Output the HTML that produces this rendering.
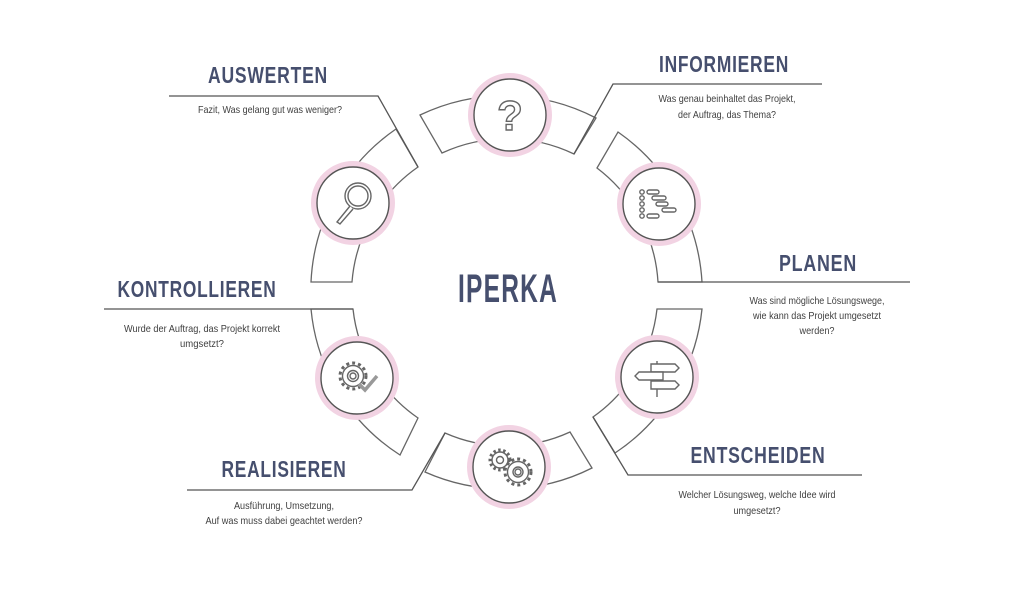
<!DOCTYPE html>
<html><head><meta charset="utf-8"><style>
html,body{margin:0;padding:0;background:#fff;}
svg{display:block;}
.t{font-family:"Liberation Sans",sans-serif;font-weight:bold;fill:#464f6e;text-anchor:middle;letter-spacing:1px;}
.s{font-family:"Liberation Sans",sans-serif;font-size:10.5px;fill:#3f3f3f;text-anchor:middle;}
.seg{fill:#fff;stroke:#666;stroke-width:1.3;}
.ld{fill:none;stroke:#555;stroke-width:1.3;}
.pk{fill:#fff;stroke:#f2d3e3;stroke-width:6;}
.ci{fill:#fff;stroke:#555;stroke-width:1.4;}
.ic{fill:#fff;stroke:#666;stroke-width:1.4;}
</style></head><body>
<svg width="1024" height="592" viewBox="0 0 1024 592" xmlns="http://www.w3.org/2000/svg">
<path class="seg" d="M420,115 A197,197 0 0 1 596,118 L574,154 A155,155 0 0 0 442,153 Z"/>
<path class="seg" d="M618,132 A197,197 0 0 1 702,282 L658,282 A155,155 0 0 0 597,168 Z"/>
<path class="seg" d="M702,309 A197,197 0 0 1 615,453 L593,417 A153,153 0 0 0 657,309 Z"/>
<path class="seg" d="M592,468 A195,195 0 0 1 425,472 L445,433 A152,152 0 0 0 570,432 Z"/>
<path class="seg" d="M400,455 A195,195 0 0 1 311,309 L353,309 A152,152 0 0 0 418,418 Z"/>
<path class="seg" d="M311,282 A197,197 0 0 1 396,129 L418,167 A155,155 0 0 0 352,282 Z"/>
<polyline class="ld" points="574,154 613,84 822,84"/>
<polyline class="ld" points="169,96 378,96 418,167"/>
<polyline class="ld" points="104,309 353,309"/>
<polyline class="ld" points="658,282 910,282"/>
<polyline class="ld" points="593,417 628,475 862,475"/>
<polyline class="ld" points="187,490 412,490 445,433"/>
<g transform="translate(510,115)"><circle class="pk" r="39"/><circle class="ci" r="36"/>
<text x="0" y="15" style="font-family:'Liberation Sans',sans-serif;font-size:42px;font-weight:bold;fill:#fff;stroke:#666;stroke-width:1.4;text-anchor:middle">?</text></g>
<g transform="translate(659,204)"><circle class="pk" r="39"/><circle class="ci" r="36"/>
<g class="ic"><circle cx="-17" cy="-12" r="2.2"/><circle cx="-17" cy="-6" r="2.2"/><circle cx="-17" cy="0" r="2.2"/><circle cx="-17" cy="6" r="2.2"/><circle cx="-17" cy="12" r="2.2"/>
<rect x="-12" y="-14" width="12" height="4" rx="2"/><rect x="-7" y="-8" width="14" height="4" rx="2"/><rect x="-3" y="-2" width="12" height="4" rx="2"/><rect x="3" y="4" width="14" height="4" rx="2"/><rect x="-12" y="10" width="12" height="4" rx="2"/></g></g>
<g transform="translate(657,377)"><circle class="pk" r="39"/><circle class="ci" r="36"/>
<g class="ic"><line x1="0" y1="-16" x2="0" y2="20"/><polygon points="-6,-13 18,-13 22,-9 18,-5 -6,-5"/><polygon points="6,-5 -18,-5 -22,-1 -18,3 6,3"/><polygon points="-6,4 18,4 22,8 18,12 -6,12"/></g></g>
<g transform="translate(509,467)"><circle class="pk" r="39"/><circle class="ci" r="36"/>
<g class="ic"><circle cx="-9" cy="-7" r="10" stroke-width="3" stroke-dasharray="2.5 2.5"/><circle cx="-9" cy="-7" r="8"/><circle cx="-9" cy="-7" r="3.5"/><circle cx="9" cy="5" r="13" stroke-width="3" stroke-dasharray="3 3"/><circle cx="9" cy="5" r="10.5"/><circle cx="9" cy="5" r="5"/><circle cx="9" cy="5" r="3"/></g></g>
<g transform="translate(357,378)"><circle class="pk" r="39"/><circle class="ci" r="36"/>
<g class="ic"><circle cx="-4" cy="-2" r="13" stroke-width="3" stroke-dasharray="3 3"/><circle cx="-4" cy="-2" r="10.5"/><circle cx="-4" cy="-2" r="5.5"/><circle cx="-4" cy="-2" r="3"/><polyline points="2,6 8,12 20,-2" style="stroke-width:3.5;stroke:#999;fill:none"/></g></g>
<g transform="translate(353,203)"><circle class="pk" r="39"/><circle class="ci" r="36"/>
<g class="ic"><circle cx="5" cy="-7" r="13"/><circle cx="5" cy="-7" r="10"/><path d="M-3,3 L-16,19 L-13,21 L0,6" /></g></g>
<text class="t" x="508" y="302" style="font-size:40px;letter-spacing:2px" textLength="100" lengthAdjust="spacingAndGlyphs">IPERKA</text>
<text class="t" x="724" y="72" style="font-size:23px" textLength="130" lengthAdjust="spacingAndGlyphs">INFORMIEREN</text>
<text class="t" x="268" y="83" style="font-size:23px" textLength="120" lengthAdjust="spacingAndGlyphs">AUSWERTEN</text>
<text class="t" x="818" y="271" style="font-size:23px" textLength="78" lengthAdjust="spacingAndGlyphs">PLANEN</text>
<text class="t" x="197" y="297" style="font-size:23px" textLength="159" lengthAdjust="spacingAndGlyphs">KONTROLLIEREN</text>
<text class="t" x="758" y="463" style="font-size:23px" textLength="135" lengthAdjust="spacingAndGlyphs">ENTSCHEIDEN</text>
<text class="t" x="284" y="477" style="font-size:23px" textLength="125" lengthAdjust="spacingAndGlyphs">REALISIEREN</text>
<text class="s" x="727" y="102" textLength="137" lengthAdjust="spacingAndGlyphs">Was genau beinhaltet das Projekt,</text>
<text class="s" x="727" y="118" textLength="98" lengthAdjust="spacingAndGlyphs">der Auftrag, das Thema?</text>
<text class="s" x="270" y="113" textLength="144" lengthAdjust="spacingAndGlyphs">Fazit, Was gelang gut was weniger?</text>
<text class="s" x="817" y="304" textLength="135" lengthAdjust="spacingAndGlyphs">Was sind mögliche Lösungswege,</text>
<text class="s" x="817" y="319" textLength="128" lengthAdjust="spacingAndGlyphs">wie kann das Projekt umgesetzt</text>
<text class="s" x="817" y="334" textLength="35" lengthAdjust="spacingAndGlyphs">werden?</text>
<text class="s" x="202" y="332" textLength="156" lengthAdjust="spacingAndGlyphs">Wurde der Auftrag, das Projekt korrekt</text>
<text class="s" x="202" y="347" textLength="44" lengthAdjust="spacingAndGlyphs">umgsetzt?</text>
<text class="s" x="757" y="498" textLength="157" lengthAdjust="spacingAndGlyphs">Welcher Lösungsweg, welche Idee wird</text>
<text class="s" x="757" y="514" textLength="47" lengthAdjust="spacingAndGlyphs">umgesetzt?</text>
<text class="s" x="284" y="509" textLength="100" lengthAdjust="spacingAndGlyphs">Ausführung, Umsetzung,</text>
<text class="s" x="284" y="524" textLength="157" lengthAdjust="spacingAndGlyphs">Auf was muss dabei geachtet werden?</text>
</svg>
</body></html>
